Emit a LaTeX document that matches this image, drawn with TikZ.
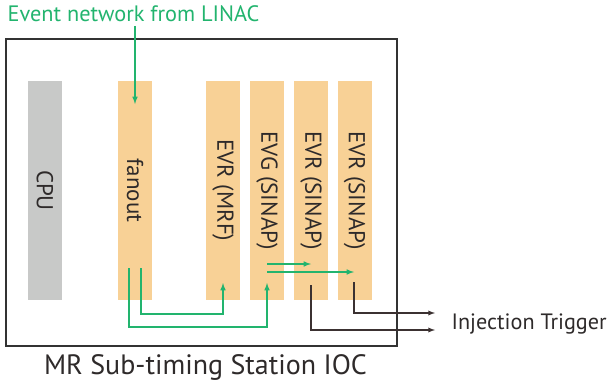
\documentclass[tikz,border=0pt]{standalone}
\usepackage{fontspec}
\setmainfont{PT Sans}
\usetikzlibrary{arrows}
\definecolor{slotorange}{HTML}{F8D196}
\definecolor{cpugray}{HTML}{C8C9C8}
\definecolor{evgreen}{HTML}{22B46E}
\definecolor{trigdark}{HTML}{3B3131}
\definecolor{boxgray}{HTML}{333333}
\definecolor{textgray}{HTML}{2E2A2A}

\begin{document}
\begin{tikzpicture}[x=1pt,y=-1pt,>=latex,
  slot/.style={rectangle,fill=slotorange,rotate=-90,minimum width=219pt,minimum height=34pt,inner sep=0pt,text=textgray,font=\fontsize{23}{23}\selectfont},
  cpuslot/.style={slot,fill=cpugray},
  evline/.style={->,evgreen,line width=1.5pt},
  trigline/.style={->,trigdark,line width=1.3pt}]
\useasboundingbox (0,0) rectangle (609,385);
\node [draw=boxgray,line width=1.3pt,minimum width=391pt,minimum height=307pt,inner sep=0pt] (ioc) at (201.5,192.5) {};
\node [cpuslot] (cpu) at (45,190.5) {CPU};
\node [slot] (fanout) at (135,190.5) {fanout};
\node [slot] (mrf) at (223,190.5) {EVR (MRF)};
\node [slot] (evg) at (267,190.5) {EVG (SINAP)};
\node [slot] (sinapA) at (311,190.5) {EVR (SINAP)};
\node [slot] (sinapB) at (354.5,190.5) {EVR (SINAP)};
\node [anchor=base,text=evgreen,font=\fontsize{22.3}{22.3}\selectfont] (linac) at (133.5,22) {Event network from LINAC};
\node [anchor=base west,text=textgray,font=\fontsize{22.2}{22.2}\selectfont] (trigger) at (448,329) {Injection Trigger};
\node [anchor=base,text=textgray,font=\fontsize{28}{28}\selectfont] (station) at (205.5,374) {MR Sub-timing Station IOC};
\coordinate (fanoutin) at (135,104);
\coordinate (fanoutA) at (141,268);
\coordinate (fanoutB) at (129,268);
\coordinate (mrfin) at (223,283);
\coordinate (evgin) at (267,283);
\coordinate (evgoutA) at (267,264);
\coordinate (evgoutB) at (267,272);
\coordinate (sinapAin) at (311,264);
\coordinate (sinapBin) at (354,272);
\coordinate (sinapAout) at (311,285);
\coordinate (sinapBout) at (354,282);
\coordinate (trigA) at (435,330);
\coordinate (trigB) at (435,313);
\draw[evline] (linac.south -| fanoutin) -- (fanoutin);
\draw[evline] (fanoutA) -- ++(0,46) -| (mrfin);
\draw[evline] (fanoutB) -- ++(0,59) -| (evgin);
\draw[evline] (evgoutA) -- (sinapAin);
\draw[evline] (evgoutB) -- (sinapBin);
\draw[trigline] (sinapAout) |- (trigA);
\draw[trigline] (sinapBout) |- (trigB);
\end{tikzpicture}
\end{document}
